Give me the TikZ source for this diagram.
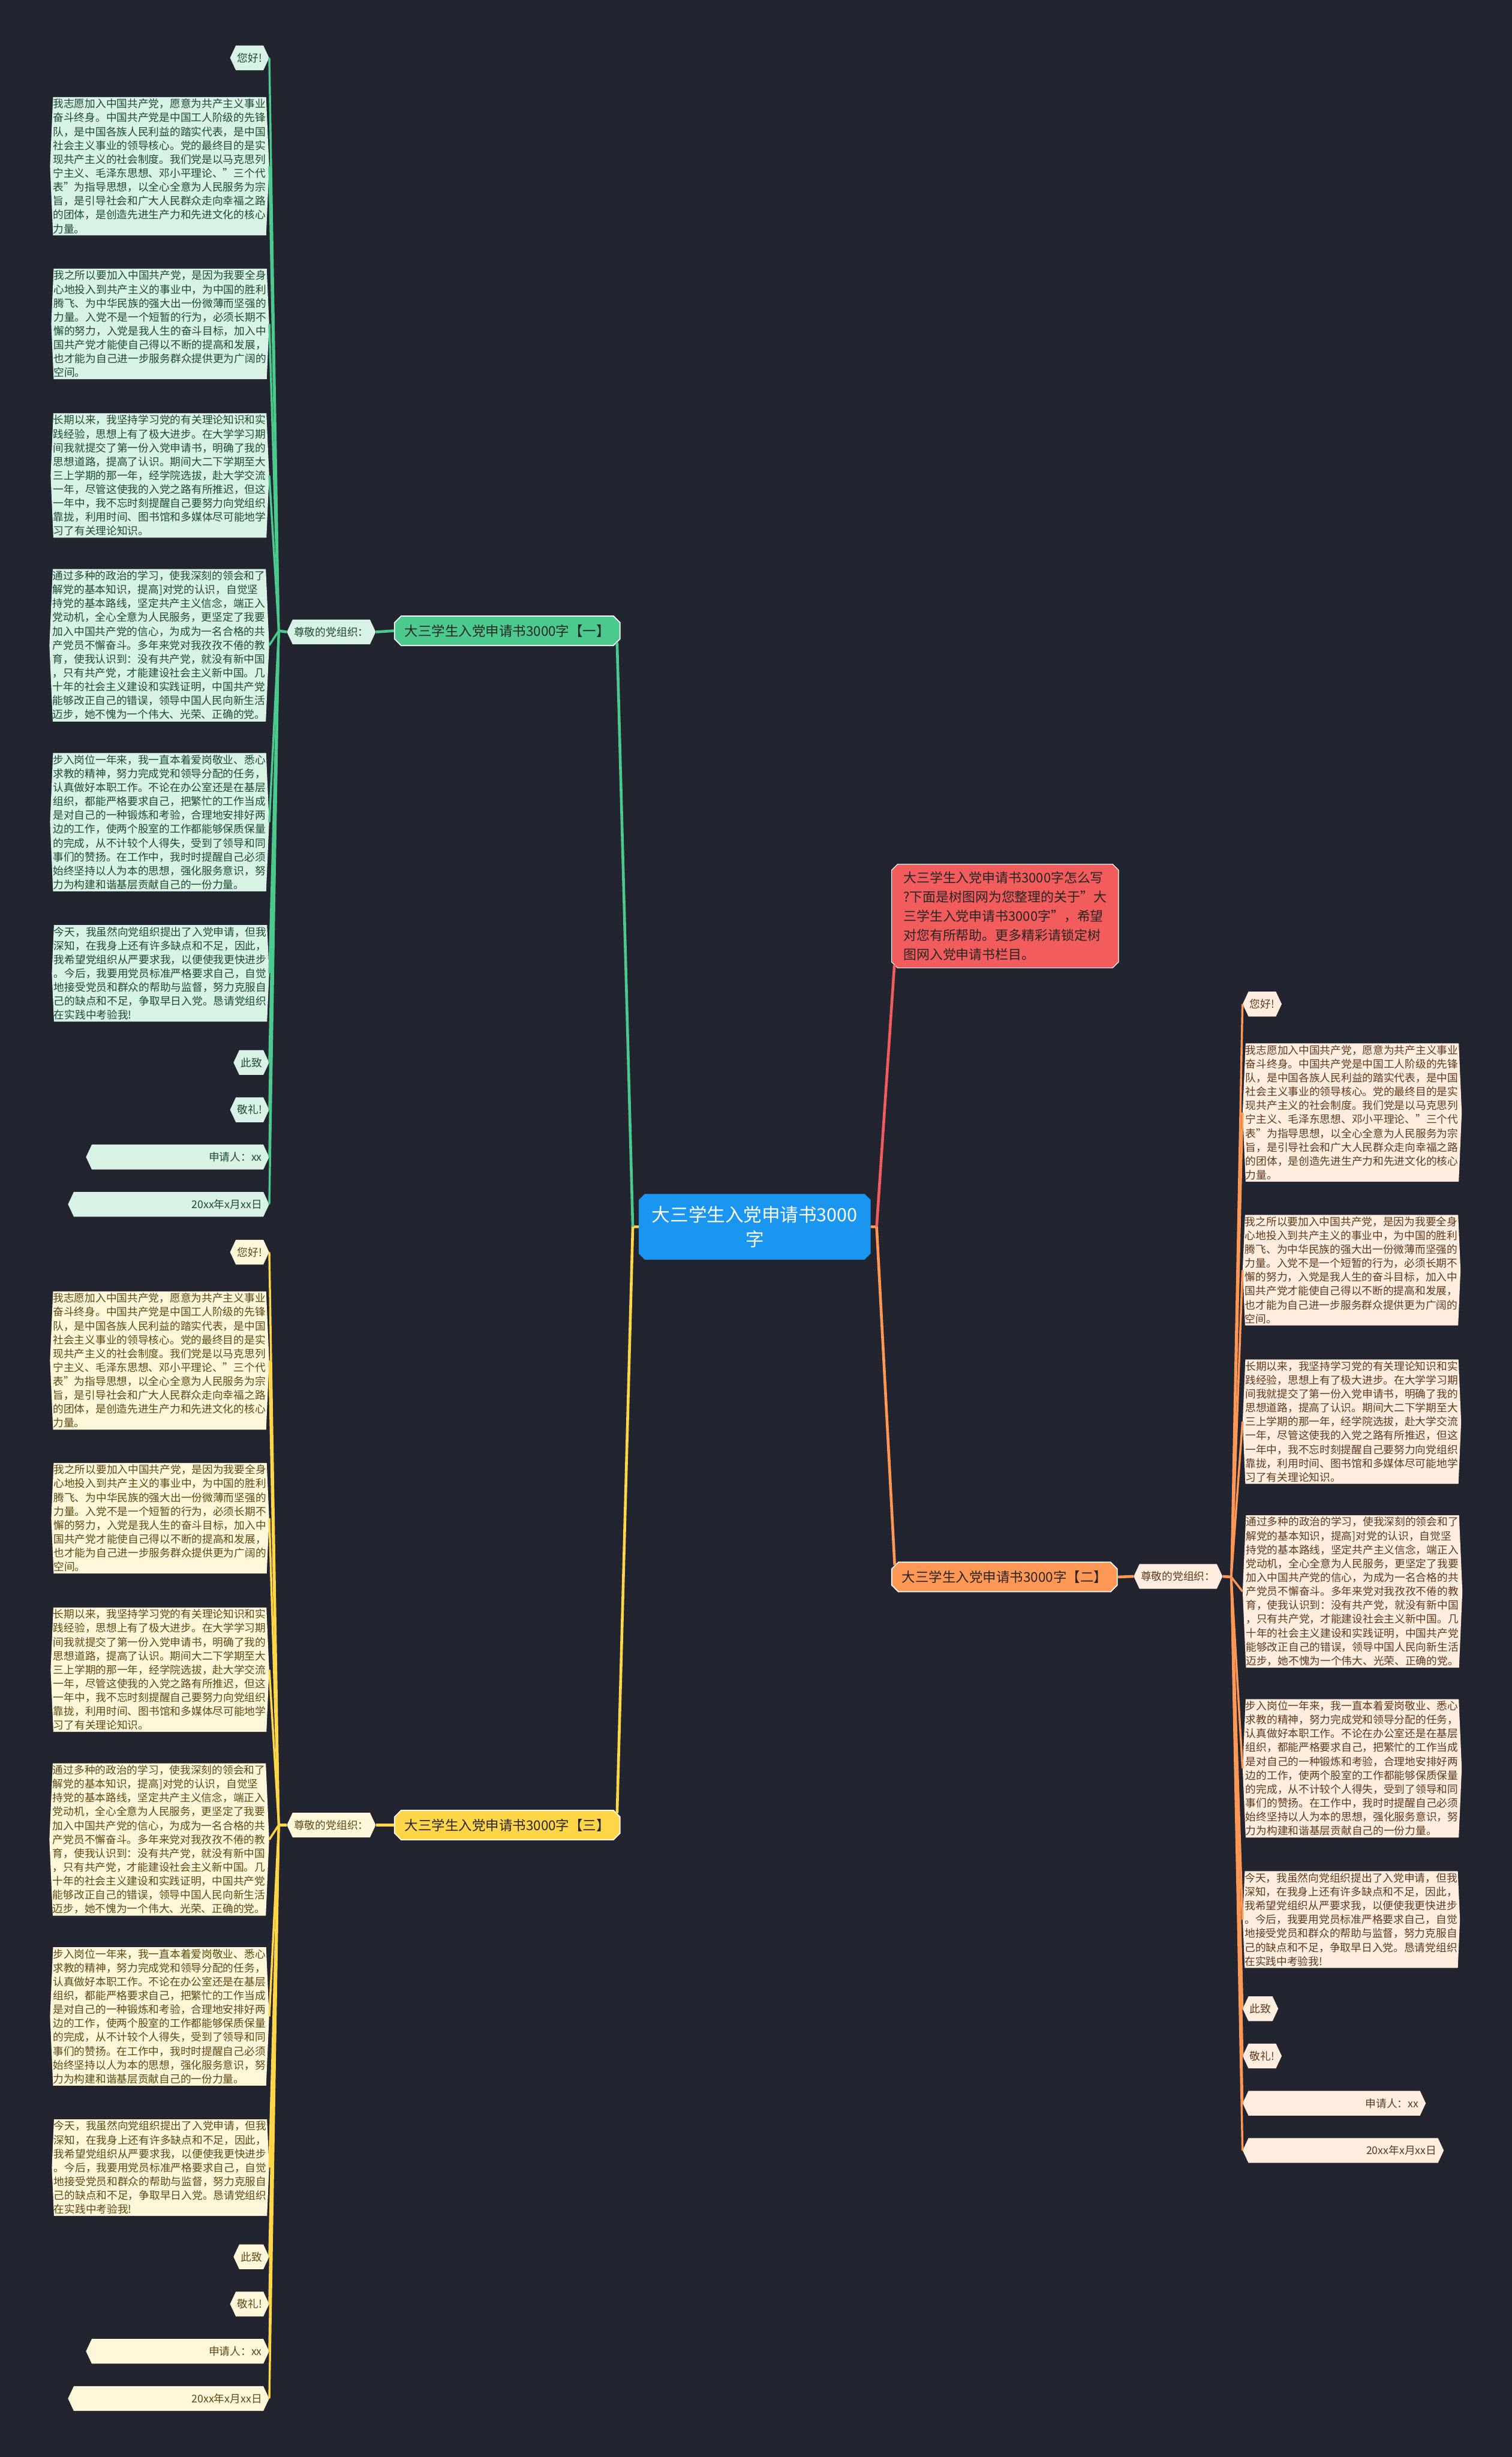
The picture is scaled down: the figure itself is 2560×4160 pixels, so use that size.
\documentclass[tikz,border=0pt]{standalone}
\usepackage{fontspec}
\setmainfont{Noto Sans CJK SC}
\usetikzlibrary{shapes.misc, shapes.symbols}

\definecolor{bgc}{RGB}{34,37,48}
\definecolor{mainblue}{RGB}{26,150,240}
\definecolor{introred}{RGB}{242,92,92}
\definecolor{grn}{RGB}{76,201,140}
\definecolor{grnleaf}{RGB}{216,243,230}
\definecolor{grntext}{RGB}{30,74,52}
\definecolor{org}{RGB}{255,152,84}
\definecolor{orgleaf}{RGB}{255,238,224}
\definecolor{orgtext}{RGB}{92,58,30}
\definecolor{ylw}{RGB}{255,214,72}
\definecolor{ylwleaf}{RGB}{255,247,218}
\definecolor{ylwtext}{RGB}{92,74,20}

\newcommand\letterA{我志愿加入中国共产党，愿意为共产主义事业\\奋斗终身。中国共产党是中国工人阶级的先锋\\队，是中国各族人民利益的踏实代表，是中国\\社会主义事业的领导核心。党的最终目的是实\\现共产主义的社会制度。我们党是以马克思列\\宁主义、毛泽东思想、邓小平理论、"三个代\\表"为指导思想，以全心全意为人民服务为宗\\旨，是引导社会和广大人民群众走向幸福之路\\的团体，是创造先进生产力和先进文化的核心\\力量。}
\newcommand\letterB{我之所以要加入中国共产党，是因为我要全身\\心地投入到共产主义的事业中，为中国的胜利\\腾飞、为中华民族的强大出一份微薄而坚强的\\力量。入党不是一个短暂的行为，必须长期不\\懈的努力，入党是我人生的奋斗目标，加入中\\国共产党才能使自己得以不断的提高和发展，\\也才能为自己进一步服务群众提供更为广阔的\\空间。}
\newcommand\letterC{长期以来，我坚持学习党的有关理论知识和实\\践经验，思想上有了极大进步。在大学学习期\\间我就提交了第一份入党申请书，明确了我的\\思想道路，提高了认识。期间大二下学期至大\\三上学期的那一年，经学院选拔，赴大学交流\\一年，尽管这使我的入党之路有所推迟，但这\\一年中，我不忘时刻提醒自己要努力向党组织\\靠拢，利用时间、图书馆和多媒体尽可能地学\\习了有关理论知识。}
\newcommand\letterD{通过多种的政治的学习，使我深刻的领会和了\\解党的基本知识，提高]对党的认识，自觉坚\\持党的基本路线，坚定共产主义信念，端正入\\党动机，全心全意为人民服务，更坚定了我要\\加入中国共产党的信心，为成为一名合格的共\\产党员不懈奋斗。多年来党对我孜孜不倦的教\\育，使我认识到：没有共产党，就没有新中国\\，只有共产党，才能建设社会主义新中国。几\\十年的社会主义建设和实践证明，中国共产党\\能够改正自己的错误，领导中国人民向新生活\\迈步，她不愧为一个伟大、光荣、正确的党。}
\newcommand\letterE{步入岗位一年来，我一直本着爱岗敬业、悉心\\求教的精神，努力完成党和领导分配的任务，\\认真做好本职工作。不论在办公室还是在基层\\组织，都能严格要求自己，把繁忙的工作当成\\是对自己的一种锻炼和考验，合理地安排好两\\边的工作，使两个股室的工作都能够保质保量\\的完成，从不计较个人得失，受到了领导和同\\事们的赞扬。在工作中，我时时提醒自己必须\\始终坚持以人为本的思想，强化服务意识，努\\力为构建和谐基层贡献自己的一份力量。}
\newcommand\letterF{今天，我虽然向党组织提出了入党申请，但我\\深知，在我身上还有许多缺点和不足，因此，\\我希望党组织从严要求我，以便使我更快进步\\。今后，我要用党员标准严格要求自己，自觉\\地接受党员和群众的帮助与监督，努力克服自\\己的缺点和不足，争取早日入党。恳请党组织\\在实践中考验我!}

\begin{document}
\begin{tikzpicture}[x=0.3mm, y=-0.3mm,
  root/.style={chamfered rectangle, chamfered rectangle xsep=5pt, fill=mainblue, text=white, align=center, inner sep=0pt, minimum width=335pt, minimum height=95pt, font=\fontsize{26.5pt}{36pt}\selectfont},
  intro/.style={chamfered rectangle, chamfered rectangle xsep=5pt, fill=introred, draw=white, line width=1pt, text=black!85, align=left, inner xsep=6pt, inner ysep=6pt, minimum width=328pt, minimum height=150pt, font=\fontsize{19pt}{27.8pt}\selectfont},
  branch/.style={chamfered rectangle, chamfered rectangle xsep=6pt, draw=white, line width=1.5pt, inner sep=0pt, minimum width=326pt, minimum height=42.7pt, text=black!85, font=\fontsize{19.5pt}{24pt}\selectfont},
  leaf/.style={signal, signal to=east and west, signal pointer angle=130, inner xsep=2pt, inner ysep=0pt, minimum height=35.8pt, font=\fontsize{15.4pt}{20pt}\selectfont},
  para/.style={signal, signal to=east and west, signal pointer angle=175, inner xsep=0pt, inner ysep=2.5pt, text width=308pt, align=left, font=\fontsize{15.36pt}{20.06pt}\selectfont},
  wideA/.style={text width=244pt, align=right},
  wideB/.style={text width=270pt, align=right},
  gleaf/.style={fill=grnleaf, text=grntext},
  oleaf/.style={fill=orgleaf, text=orgtext},
  yleaf/.style={fill=ylwleaf, text=ylwtext},
  link/.style={line width=4pt},
  twig/.style={line width=3pt}]

\useasboundingbox (0,0) rectangle (2560,4160);
\fill[bgc] (0,0) rectangle (2560,4160);

% centre and intro
\node[root] (root) at (1278,2077) {大三学生入党申请书3000\\字};
\node[intro] (intro) at (1702,1551) {大三学生入党申请书3000字怎么写\\?下面是树图网为您整理的关于"大\\三学生入党申请书3000字"，希望\\对您有所帮助。更多精彩请锁定树\\图网入党申请书栏目。};

% branch one
\node[branch, fill=grn] (glab) at (859,1068) {大三学生入党申请书3000字【一】};
\node[leaf, gleaf] (gzz) at (561,1070) {尊敬的党组织：};
\coordinate (ghub) at (472,1068);
\node[leaf, gleaf, anchor=east] (g0) at (456,98) {您好!};
\node[para, gleaf, anchor=east] (g1) at (456,281.5) {\letterA};
\node[para, gleaf, anchor=east] (g2) at (456,548.5) {\letterB};
\node[para, gleaf, anchor=east] (g3) at (456,805) {\letterC};
\node[para, gleaf, anchor=east] (g4) at (456,1092.5) {\letterD};
\node[para, gleaf, anchor=east] (g5) at (456,1392) {\letterE};
\node[para, gleaf, anchor=east] (g6) at (456,1648) {\letterF};
\node[leaf, gleaf, anchor=east] (g7) at (456,1799) {此致};
\node[leaf, gleaf, anchor=east] (g8) at (456,1879) {敬礼!};
\node[leaf, gleaf, wideA, anchor=east] (g9) at (456,1959) {申请人：xx};
\node[leaf, gleaf, wideB, anchor=east] (g10) at (456,2039) {20xx年x月xx日};

% branch two
\node[branch, fill=org] (olab) at (1701,2670) {大三学生入党申请书3000字【二】};
\node[leaf, oleaf] (ozz) at (1995,2669) {尊敬的党组织：};
\coordinate (ohub) at (2085,2670);
\node[leaf, oleaf, anchor=west] (o0) at (2104,1700) {您好!};
\node[para, oleaf, anchor=west] (o1) at (2104,1883.5) {\letterA};
\node[para, oleaf, anchor=west] (o2) at (2104,2150.5) {\letterB};
\node[para, oleaf, anchor=west] (o3) at (2104,2407) {\letterC};
\node[para, oleaf, anchor=west] (o4) at (2104,2694.5) {\letterD};
\node[para, oleaf, anchor=west] (o5) at (2104,2994) {\letterE};
\node[para, oleaf, anchor=west] (o6) at (2104,3250) {\letterF};
\node[leaf, oleaf, anchor=west] (o7) at (2104,3401) {此致};
\node[leaf, oleaf, anchor=west] (o8) at (2104,3481) {敬礼!};
\node[leaf, oleaf, wideA, anchor=west] (o9) at (2104,3561) {申请人：xx};
\node[leaf, oleaf, wideB, anchor=west] (o10) at (2104,3641) {20xx年x月xx日};

% branch three
\node[branch, fill=ylw] (ylab) at (859,3090) {大三学生入党申请书3000字【三】};
\node[leaf, yleaf] (yzz) at (561,3090) {尊敬的党组织：};
\coordinate (yhub) at (472,3090);
\node[leaf, yleaf, anchor=east] (y0) at (456,2120) {您好!};
\node[para, yleaf, anchor=east] (y1) at (456,2303.5) {\letterA};
\node[para, yleaf, anchor=east] (y2) at (456,2570.5) {\letterB};
\node[para, yleaf, anchor=east] (y3) at (456,2827) {\letterC};
\node[para, yleaf, anchor=east] (y4) at (456,3114.5) {\letterD};
\node[para, yleaf, anchor=east] (y5) at (456,3414) {\letterE};
\node[para, yleaf, anchor=east] (y6) at (456,3670) {\letterF};
\node[leaf, yleaf, anchor=east] (y7) at (456,3821) {此致};
\node[leaf, yleaf, anchor=east] (y8) at (456,3901) {敬礼!};
\node[leaf, yleaf, wideA, anchor=east] (y9) at (456,3981) {申请人：xx};
\node[leaf, yleaf, wideB, anchor=east] (y10) at (456,4061) {20xx年x月xx日};

% connectors
\path (root.west) ++(-10,0) coordinate (lstub);
\path (root.east) ++(10,0) coordinate (rstub);
\draw[link, ylw] (root.west) -- (lstub) -- (ylab.north east);
\draw[link, grn] (lstub) -- (glab.south east);
\draw[link, org] (root.east) -- (rstub) -- (olab.north west);
\draw[link, introred] (rstub) -- (intro.south west);
\draw[link, grn] (glab.west) -- (gzz.east) (gzz.west) -- (ghub);
\draw[link, org] (olab.east) -- (ozz.west) (ozz.east) -- (ohub);
\draw[link, ylw] (ylab.west) -- (yzz.east) (yzz.west) -- (yhub);
\foreach \k in {0,...,10} {
  \draw[twig, grn] (ghub) -- (g\k.east);
  \draw[twig, org] (ohub) -- (o\k.west);
  \draw[twig, ylw] (yhub) -- (y\k.east);
}
\end{tikzpicture}
\end{document}
